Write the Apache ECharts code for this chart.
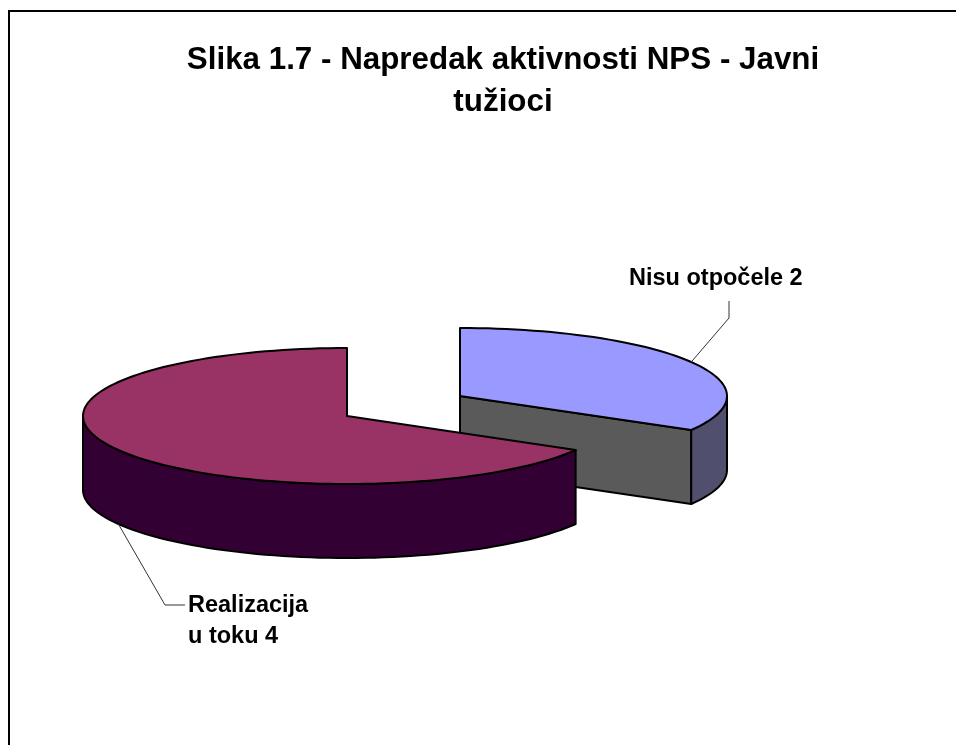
<!DOCTYPE html>
<html>
<head>
<meta charset="utf-8">
<style>
    html, body { margin: 0; padding: 0; background: #fff; }
    #chartArea { width: 956px; height: 745px; }
</style>
<script src="https://cdn.jsdelivr.net/npm/echarts@6/dist/echarts.min.js"></script>
</head>
<body>
<div id="chartArea"></div>
<script>
// values
let categories = ['Nisu otpočele', 'Realizacija\nu toku'];
let values = [2, 4];

// layout of each exploded slice, in pixels
let centers = [[460, 396], [347, 416]];
let radiiX = [267, 264];
let radiusY = 68;
let depth = 74;
let elbows = [[[729, 318], [729, 301]], [[165, 605], [185, 605]]];
let labelPos = [[629, 279], [188, 621]];

let topColors = ['#9999ff', '#993366'];
let wallColors = ['#50506e', '#330033'];
let cutColors = ['#5a5a5a', '#330033'];

let total = values.reduce(function (a, b) { return a + b; }, 0);

// angles run clockwise from 12 o'clock, in degrees
function sliceAngles(idx) {
    let start = 0;
    for (let i = 0; i < idx; i++) {
        start += values[i] / total * 360;
    }
    return [start, start + values[idx] / total * 360];
}

function rimPoint(idx, deg, drop) {
    let r = deg * Math.PI / 180;
    return [
        centers[idx][0] + radiiX[idx] * Math.sin(r),
        centers[idx][1] - radiusY * Math.cos(r) + drop
    ];
}

function arc(idx, from, to, drop) {
    let pts = [];
    let n = Math.max(2, Math.ceil(Math.abs(to - from) / 2));
    for (let i = 0; i <= n; i++) {
        pts.push(rimPoint(idx, from + (to - from) * i / n, drop));
    }
    return pts;
}

function poly(points, fill, width) {
    return {
        type: 'polygon',
        shape: {points: points},
        style: {fill: fill, stroke: '#000', lineWidth: width, lineJoin: 'round'}
    };
}

function renderSlice(params, api) {
    let idx = params.dataIndex;
    let angles = sliceAngles(idx);
    let children = [];
    let c = centers[idx];

    // cut face, only seen when the slice ends on the front half
    if (angles[1] < 180) {
        let e = rimPoint(idx, angles[1], 0);
        children.push(poly([c, e, [e[0], e[1] + depth], [c[0], c[1] + depth]], cutColors[idx], 2));
    }
    // outer wall on the front half of the rim
    let wallFrom = Math.max(angles[0], 90);
    let wallTo = Math.min(angles[1], 270);
    if (wallTo > wallFrom) {
        let wall = arc(idx, wallFrom, wallTo, 0).concat(arc(idx, wallTo, wallFrom, depth));
        children.push(poly(wall, wallColors[idx], 2));
    }
    // top face
    let top = [c].concat(arc(idx, angles[0], angles[1], 0));
    children.push(poly(top, topColors[idx], 2));

    // leader line, starts at the middle of the slice
    let mid = (angles[0] + angles[1]) / 2;
    let onFront = mid > 90 && mid < 270;
    let start = rimPoint(idx, mid, onFront ? depth : 0);
    children.push({
        type: 'polyline',
        shape: {points: [start].concat(elbows[idx])},
        style: {fill: null, stroke: '#333', lineWidth: 1}
    });
    children.push({
        type: 'text',
        style: {
            x: labelPos[idx][0],
            y: labelPos[idx][1],
            text: categories[idx] + ' ' + values[idx],
            fill: '#000',
            font: 'bold 23.5px "Liberation Sans", Arial, sans-serif',
            lineHeight: 31,
            verticalAlign: 'middle'
        }
    });
    return {type: 'group', children: children};
}

let myChart = echarts.init(document.getElementById('chartArea'), null, {renderer: 'canvas'});

let option = {
    animation: false,
    backgroundColor: '#fff',
    title: {
        text: 'Slika 1.7 - Napredak aktivnosti NPS - Javni\ntužioci',
        left: 498,
        top: 34,
        textAlign: 'center',
        textStyle: {
            fontFamily: '"Liberation Sans", Arial, sans-serif',
            fontSize: 31.35,
            fontWeight: 'bold',
            color: '#000',
            lineHeight: 42
        }
    },
    graphic: [
        {
            type: 'polyline',
            shape: {points: [[9, 745], [9, 11], [956, 11]]},
            style: {fill: null, stroke: '#000', lineWidth: 2}
        }
    ],
    series: [
        {
            type: 'custom',
            coordinateSystem: 'none',
            data: values,
            renderItem: renderSlice
        }
    ]
};

myChart.setOption(option);
</script>
</body>
</html>
